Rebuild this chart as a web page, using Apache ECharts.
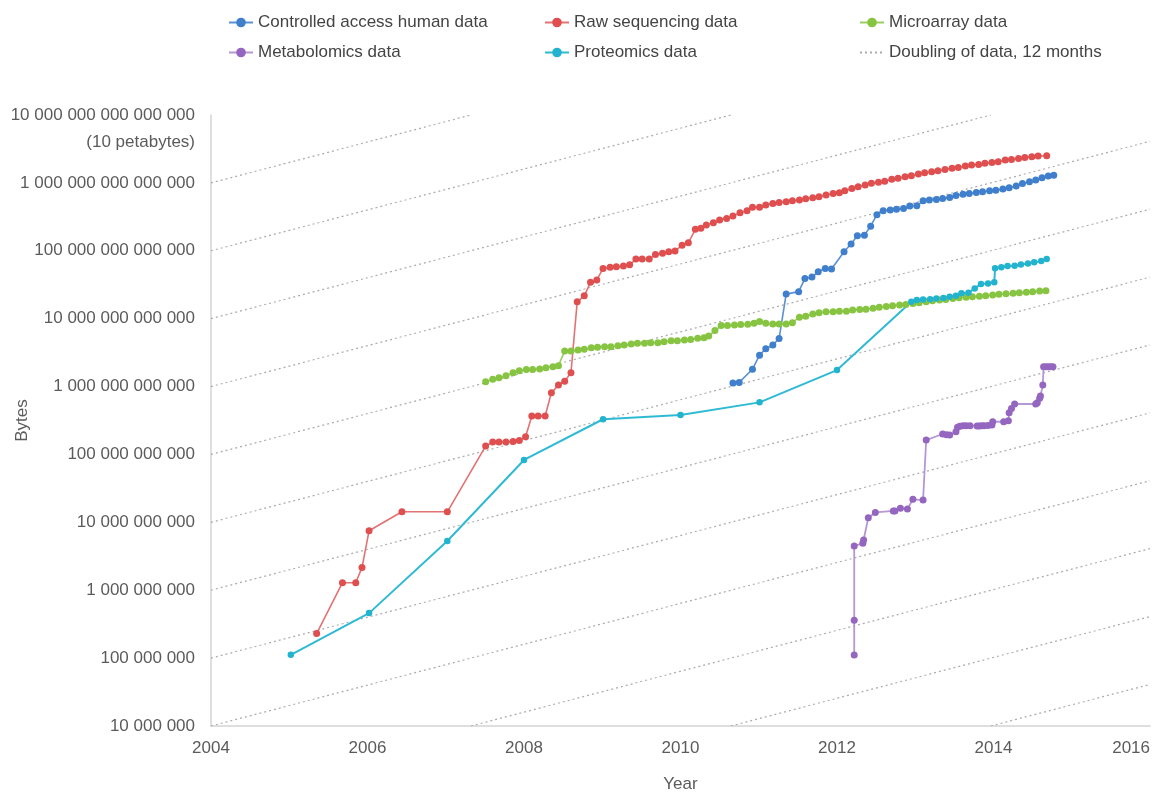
<!DOCTYPE html>
<html><head><meta charset="utf-8">
<script src="https://cdn.jsdelivr.net/npm/echarts@6/dist/echarts.min.js"></script>
<style>html,body{margin:0;padding:0;background:#fff}#c{width:1163px;height:799px}</style>
</head><body><div id="c"></div>
<script>
// ---------- data ----------
const xMin = 2004, xMax = 2016, xInterval = 2;
const yMinExp = 7, yMaxExp = 16;
const topLabelNote = '(10 petabytes)';
const xAxisName = 'Year';
const yAxisName = 'Bytes';

const nameControlled = 'Controlled access human data';
const nameRaw = 'Raw sequencing data';
const nameMicro = 'Microarray data';
const nameMetab = 'Metabolomics data';
const nameProt = 'Proteomics data';
const nameDoubling = 'Doubling of data, 12 months';

// log10 of the doubling guide lines' value at 2004; doubling every 12 months
const doublingExps = [4,5,6,7,8,9,10,11,12,13,14,15];
const doublingPeriodYears = 1;

const controlledData = [
 [2010.67,1.13e12],[2010.75,1.15e12],[2010.92,1.8e12],[2011.01,2.9e12],[2011.09,3.6e12],[2011.18,4.1e12],
 [2011.26,5.1e12],[2011.35,2.3e13],[2011.51,2.5e13],[2011.59,3.9e13],[2011.68,4.1e13],[2011.76,4.9e13],
 [2011.85,5.5e13],[2011.93,5.4e13],[2012.09,9.7e13],[2012.18,1.26e14],[2012.26,1.66e14],[2012.35,1.7e14],
 [2012.43,2.3e14],[2012.51,3.4e14],[2012.59,3.9e14],[2012.68,4.0e14],[2012.76,4.1e14],[2012.85,4.2e14],
 [2012.93,4.55e14],[2013.02,4.6e14],[2013.10,5.45e14],[2013.18,5.6e14],[2013.27,5.7e14],[2013.35,5.9e14],
 [2013.44,6.1e14],[2013.52,6.5e14],[2013.61,6.8e14],[2013.69,7.0e14],[2013.78,7.2e14],[2013.86,7.4e14],
 [2013.95,7.65e14],[2014.03,7.8e14],[2014.12,8.1e14],[2014.20,8.5e14],[2014.29,9.0e14],[2014.37,9.8e14],
 [2014.46,1.04e15],[2014.54,1.1e15],[2014.62,1.19e15],[2014.70,1.26e15],[2014.77,1.3e15]
];

const rawData = [
 [2005.35,2.3e8],[2005.68,1.29e9],[2005.85,1.29e9],[2005.93,2.17e9],[2006.02,7.5e9],[2006.44,1.43e10],
 [2007.02,1.43e10],[2007.51,1.33e11],[2007.60,1.52e11],[2007.68,1.52e11],[2007.77,1.52e11],[2007.86,1.55e11],
 [2007.94,1.6e11],[2008.02,1.82e11],[2008.10,3.68e11],[2008.18,3.68e11],[2008.27,3.68e11],[2008.35,8.1e11],
 [2008.44,1.05e12],[2008.52,1.2e12],[2008.60,1.6e12],[2008.68,1.77e13],[2008.77,2.17e13],[2008.85,3.43e13],
 [2008.93,3.7e13],[2009.01,5.5e13],[2009.10,5.7e13],[2009.18,5.8e13],[2009.27,5.96e13],[2009.35,6.2e13],
 [2009.43,7.55e13],[2009.51,7.55e13],[2009.60,7.55e13],[2009.68,8.85e13],[2009.77,9.2e13],[2009.85,9.7e13],
 [2009.93,9.9e13],[2010.02,1.21e14],[2010.10,1.31e14],[2010.19,2.07e14],[2010.26,2.14e14],[2010.33,2.39e14],
 [2010.42,2.58e14],[2010.50,2.83e14],[2010.59,3.0e14],[2010.67,3.24e14],[2010.76,3.63e14],[2010.85,3.88e14],
 [2010.92,4.36e14],[2011.01,4.36e14],[2011.09,4.71e14],[2011.18,4.99e14],[2011.26,5.16e14],[2011.35,5.27e14],
 [2011.43,5.45e14],[2011.52,5.58e14],[2011.60,5.83e14],[2011.69,6.04e14],[2011.77,6.24e14],[2011.86,6.61e14],
 [2011.95,7.0e14],[2012.03,7.14e14],[2012.10,7.65e14],[2012.19,8.3e14],[2012.27,8.77e14],[2012.36,9.29e14],
 [2012.44,9.84e14],[2012.53,1.02e15],[2012.61,1.06e15],[2012.70,1.13e15],[2012.78,1.17e15],[2012.87,1.23e15],
 [2012.95,1.27e15],[2013.04,1.35e15],[2013.12,1.41e15],[2013.21,1.46e15],[2013.29,1.51e15],[2013.38,1.58e15],
 [2013.47,1.64e15],[2013.55,1.69e15],[2013.64,1.77e15],[2013.72,1.83e15],[2013.81,1.87e15],[2013.89,1.94e15],
 [2013.98,2.0e15],[2014.06,2.05e15],[2014.15,2.17e15],[2014.23,2.22e15],[2014.32,2.29e15],[2014.40,2.37e15],
 [2014.49,2.42e15],[2014.57,2.48e15],[2014.68,2.51e15]
];

const microData = [
 [2007.51,1.18e12],[2007.60,1.28e12],[2007.68,1.35e12],[2007.77,1.44e12],[2007.86,1.6e12],[2007.94,1.71e12],
 [2008.03,1.79e12],[2008.11,1.79e12],[2008.20,1.81e12],[2008.28,1.89e12],[2008.37,1.96e12],[2008.44,2.03e12],
 [2008.52,3.33e12],[2008.60,3.33e12],[2008.69,3.45e12],[2008.77,3.53e12],[2008.86,3.73e12],[2008.94,3.78e12],
 [2009.03,3.86e12],[2009.11,3.86e12],[2009.20,3.99e12],[2009.28,4.08e12],[2009.37,4.22e12],[2009.45,4.33e12],
 [2009.54,4.33e12],[2009.62,4.42e12],[2009.71,4.42e12],[2009.79,4.57e12],[2009.88,4.72e12],[2009.96,4.72e12],
 [2010.05,4.84e12],[2010.13,4.95e12],[2010.22,5.13e12],[2010.30,5.23e12],[2010.36,5.55e12],[2010.44,6.68e12],
 [2010.52,7.91e12],[2010.60,7.91e12],[2010.69,8.05e12],[2010.77,8.19e12],[2010.86,8.24e12],[2010.94,8.53e12],
 [2011.01,9.07e12],[2011.09,8.53e12],[2011.18,8.32e12],[2011.26,8.32e12],[2011.35,8.32e12],[2011.43,8.71e12],
 [2011.52,1.05e13],[2011.60,1.09e13],[2011.69,1.17e13],[2011.77,1.22e13],[2011.86,1.26e13],[2011.95,1.26e13],
 [2012.03,1.29e13],[2012.12,1.29e13],[2012.20,1.34e13],[2012.29,1.36e13],[2012.37,1.38e13],[2012.46,1.42e13],
 [2012.54,1.47e13],[2012.63,1.51e13],[2012.71,1.55e13],[2012.80,1.59e13],[2012.88,1.62e13],[2012.97,1.67e13],
 [2013.05,1.71e13],[2013.14,1.77e13],[2013.22,1.83e13],[2013.31,1.88e13],[2013.39,1.92e13],[2013.48,1.98e13],
 [2013.56,2.03e13],[2013.65,2.07e13],[2013.73,2.1e13],[2013.82,2.14e13],[2013.90,2.17e13],[2013.99,2.23e13],
 [2014.07,2.28e13],[2014.16,2.32e13],[2014.25,2.36e13],[2014.33,2.4e13],[2014.42,2.44e13],[2014.50,2.49e13],
 [2014.59,2.55e13],[2014.67,2.58e13]
];

const metabData = [
 [2012.22,1.11e8],[2012.22,3.6e8],[2012.22,4.5e9],[2012.33,4.9e9],[2012.34,5.5e9],[2012.40,1.17e10],
 [2012.49,1.4e10],[2012.72,1.47e10],[2012.74,1.47e10],[2012.81,1.61e10],[2012.90,1.57e10],[2012.97,2.18e10],
 [2013.10,2.13e10],[2013.14,1.63e11],[2013.35,2.0e11],[2013.40,1.95e11],[2013.44,1.93e11],[2013.52,2.16e11],
 [2013.54,2.51e11],[2013.57,2.6e11],[2013.61,2.65e11],[2013.65,2.65e11],[2013.70,2.65e11],[2013.79,2.62e11],
 [2013.82,2.63e11],[2013.85,2.64e11],[2013.88,2.65e11],[2013.93,2.68e11],[2013.98,2.71e11],[2013.99,3.03e11],
 [2014.13,3.03e11],[2014.19,3.14e11],[2014.20,4.11e11],[2014.23,4.77e11],[2014.27,5.53e11],[2014.54,5.53e11],
 [2014.56,5.77e11],[2014.59,6.7e11],[2014.60,7.24e11],[2014.63,1.05e12],[2014.64,1.96e12],[2014.67,1.96e12],
 [2014.70,1.96e12],[2014.73,1.96e12],[2014.76,1.96e12]
];

const protData = [
 [2005.02,1.12e8],[2006.02,4.6e8],[2007.02,5.3e9],[2008.00,8.3e10],[2009.01,3.3e11],[2010.00,3.8e11],
 [2011.01,5.85e11],[2012.00,1.75e12],[2012.95,1.77e13],[2013.02,1.88e13],[2013.10,1.91e13],[2013.19,1.94e13],
 [2013.27,1.98e13],[2013.36,2.01e13],[2013.44,2.1e13],[2013.52,2.17e13],[2013.59,2.36e13],[2013.68,2.41e13],
 [2013.76,2.79e13],[2013.84,3.23e13],[2013.93,3.31e13],[2014.01,3.43e13],[2014.02,5.51e13],[2014.10,5.7e13],
 [2014.18,5.95e13],[2014.27,6.0e13],[2014.35,6.3e13],[2014.44,6.5e13],[2014.52,6.75e13],[2014.61,7.05e13],
 [2014.68,7.55e13]
];

// ---------- styles ----------
const FONT = '"Liberation Sans",Arial,sans-serif';
const TXT = '#5b5b5b';
const FS = 17;

function fmtPow(v){
  const e = Math.round(Math.log10(v));
  const s = '1' + '0'.repeat(e);
  return s.replace(/\B(?=(\d{3})+(?!\d))/g, ' ');
}

function lineSeries(name, data, color, lineColor, width, size){
  return {
    name, type:'line', data, symbol:'circle', symbolSize:size, showSymbol:true,
    itemStyle:{color:color}, lineStyle:{color:lineColor, width:width},
    emphasis:{disabled:true}, z:3, animation:false
  };
}

const r = Math.log10(2) / doublingPeriodYears;
const doublingSeries = doublingExps.map(k => {
  const x0 = Math.max(xMin, xMin + (yMinExp - k) / r);
  const x1 = Math.min(xMax, xMin + (yMaxExp - k) / r);
  const pts = [x0, x1].map(x => [x, Math.pow(10, k + r * (x - xMin))]);
  return {
    name: nameDoubling, type:'line', data: pts, symbol:'none', silent:true,
    itemStyle:{color:'#b0b0b0'},
    lineStyle:{color:'#acacac', width:1.2, type:[2,3]}, z:1, animation:false
  };
});

const legendText = {fontFamily:FONT, fontSize:FS, color:'#444'};
const legendBase = {orient:'vertical', top:14, itemWidth:24, itemHeight:12, itemGap:13,
  textStyle:legendText, selectedMode:false, padding:0};

const option = {
  backgroundColor:'#fff',
  animation:false,
  textStyle:{fontFamily:FONT},
  legend:[
    Object.assign({left:228, data:[nameControlled, nameMetab]}, legendBase),
    Object.assign({left:544, data:[nameRaw, nameProt]}, legendBase),
    Object.assign({left:859, data:[nameMicro, {name:nameDoubling, itemStyle:{opacity:0}}]}, legendBase)
  ],
  grid:{left:211, right:13, top:115, bottom:73, outerBoundsMode:'none', containLabel:false},
  xAxis:{
    type:'value', min:xMin, max:xMax, interval:xInterval,
    name:xAxisName, nameLocation:'middle', nameGap:50, nameMoveOverlap:false,
    nameTextStyle:{fontFamily:FONT, fontSize:FS, color:TXT},
    axisLine:{show:true, lineStyle:{color:'#d4d4d4', width:1.5}},
    axisTick:{show:false}, splitLine:{show:false},
    axisLabel:{fontFamily:FONT, fontSize:FS, color:TXT, margin:14, alignMaxLabel:'right',
      formatter:v => String(Math.round(v))}
  },
  yAxis:{
    type:'log', logBase:10, min:Math.pow(10,yMinExp), max:Math.pow(10,yMaxExp), interval:1,
    name:yAxisName, nameLocation:'middle', nameGap:180, nameRotate:90, nameMoveOverlap:false,
    nameTextStyle:{fontFamily:FONT, fontSize:FS, color:TXT},
    axisLine:{show:true, lineStyle:{color:'#d4d4d4', width:1.5}},
    axisTick:{show:false}, splitLine:{show:false},
    axisLabel:{fontFamily:FONT, fontSize:FS, color:TXT, margin:16,
      formatter:v => {
        const e = Math.round(Math.log10(v));
        if (e === yMaxExp) return '{s| }\n{v|' + fmtPow(v) + '}\n{s|' + topLabelNote + '}';
        return fmtPow(v);
      },
      rich:{
        v:{fontFamily:FONT, fontSize:FS, color:TXT, lineHeight:27, align:'right'},
        s:{fontFamily:FONT, fontSize:FS, color:TXT, lineHeight:27, align:'right'}
      }
    }
  },
  series: [
    ...doublingSeries,
    lineSeries(nameControlled, controlledData, '#3f7fcc', '#5a91d3', 1.6, 7),
    lineSeries(nameRaw, rawData, '#df4f4f', '#e47272', 1.6, 7),
    lineSeries(nameMicro, microData, '#86c441', '#9ccd60', 1.6, 7),
    lineSeries(nameMetab, metabData, '#9466c0', '#b597d3', 1.8, 7),
    lineSeries(nameProt, protData, '#22b4cf', '#2fbad3', 2, 6.5)
  ]
};

const chart = echarts.init(document.getElementById('c'), null, {renderer:'canvas'});
chart.setOption(option);
</script>
</body></html>
